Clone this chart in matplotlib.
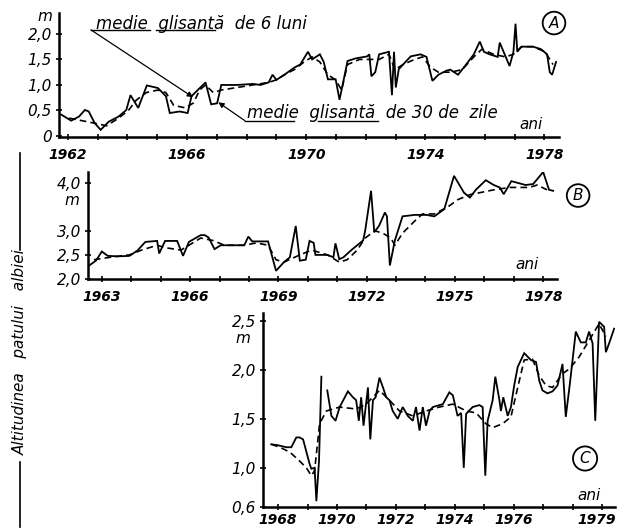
import numpy as np
import matplotlib
matplotlib.use('Agg')
import matplotlib.pyplot as plt
from matplotlib.lines import Line2D
import matplotlib.transforms as mtransforms

plt.rcParams['font.family'] = ['Liberation Sans Narrow', 'DejaVu Sans']
plt.rcParams['font.style'] = 'italic'

# ---------------- Panel A ----------------
a_years_30 = [1961.77, 1962.11, 1962.37, 1962.57, 1962.70, 1962.90, 1963.10, 1963.37, 1963.70, 1963.96,
              1964.10, 1964.36, 1964.65, 1965.02, 1965.29, 1965.42, 1965.75, 1966.02, 1966.15, 1966.62,
              1966.81, 1967.01, 1967.15, 1967.68, 1968.21, 1968.47, 1968.74, 1968.87, 1969.00, 1969.27,
              1969.60, 1969.80, 1970.06, 1970.20, 1970.46, 1970.59, 1970.73, 1970.99, 1971.12, 1971.39,
              1971.66, 1972.05, 1972.12, 1972.19, 1972.32, 1972.45, 1972.78, 1972.88, 1972.95, 1973.01,
              1973.11, 1973.51, 1973.84, 1974.04, 1974.24, 1974.44, 1974.71, 1974.84, 1975.10, 1975.37,
              1975.63, 1975.83, 1975.97, 1976.16, 1976.43, 1976.50, 1976.83, 1976.96, 1977.03, 1977.09,
              1977.23, 1977.62, 1977.89, 1978.09, 1978.18, 1978.26, 1978.39]
a_vals_30 = [0.42, 0.30, 0.38, 0.51, 0.48, 0.25, 0.12, 0.28, 0.38, 0.51,
             0.80, 0.55, 0.99, 0.94, 0.78, 0.45, 0.48, 0.45, 0.78, 1.05,
             0.62, 0.64, 1.00, 1.00, 1.02, 1.00, 1.05, 1.20, 1.10, 1.20,
             1.34, 1.40, 1.65, 1.50, 1.60, 1.45, 1.11, 1.11, 0.71, 1.47,
             1.52, 1.56, 1.60, 1.17, 1.25, 1.60, 1.65, 0.80, 1.65, 0.95,
             1.31, 1.56, 1.60, 1.55, 1.08, 1.20, 1.28, 1.30, 1.20, 1.40,
             1.60, 1.85, 1.65, 1.60, 1.55, 1.83, 1.37, 1.65, 2.20, 1.65,
             1.75, 1.75, 1.70, 1.60, 1.25, 1.20, 1.45]
a_years_6 = [1962.04, 1962.90, 1963.30, 1963.70, 1964.03, 1964.29, 1964.63, 1965.02, 1965.29, 1965.55,
             1965.95, 1966.22, 1966.42, 1966.62, 1966.88, 1967.15, 1967.68, 1968.21, 1968.74, 1969.00,
             1969.27, 1969.60, 1969.93, 1970.20, 1970.46, 1970.73, 1970.99, 1971.19, 1971.39, 1971.79,
             1972.12, 1972.45, 1972.78, 1972.98, 1973.25, 1973.64, 1973.91, 1974.17, 1974.44, 1974.84,
             1975.24, 1975.63, 1975.90, 1976.30, 1976.69, 1976.96, 1977.23, 1977.62, 1978.02, 1978.29]
a_vals_6 = [0.35, 0.25, 0.20, 0.35, 0.50, 0.70, 0.85, 0.90, 0.85, 0.60,
            0.55, 0.65, 0.90, 1.00, 0.85, 0.90, 0.95, 1.00, 1.05, 1.10,
            1.20, 1.30, 1.45, 1.55, 1.45, 1.20, 1.10, 0.90, 1.40, 1.50,
            1.50, 1.50, 1.60, 1.30, 1.40, 1.50, 1.55, 1.35, 1.25, 1.25,
            1.30, 1.55, 1.70, 1.60, 1.55, 1.60, 1.75, 1.75, 1.65, 1.40]
a_xticks = [1962, 1966, 1970, 1974, 1978]
a_yticks = [0, 0.5, 1.0, 1.5, 2.0]
a_ylabels = ['0', '0,5', '1,0', '1,5', '2,0']

# ---------------- Panel B ----------------
b_years_30 = [1962.57, 1962.80, 1963.00, 1963.20, 1963.54, 1963.94, 1964.21, 1964.48, 1964.88, 1964.95,
              1965.15, 1965.56, 1965.76, 1965.96, 1966.36, 1966.50, 1966.63, 1966.83, 1967.04, 1967.84,
              1967.98, 1968.11, 1968.65, 1968.92, 1969.19, 1969.39, 1969.59, 1969.73, 1969.93, 1970.06,
              1970.20, 1970.26, 1970.67, 1970.87, 1970.94, 1971.07, 1971.21, 1971.48, 1971.68, 1971.88,
              1971.95, 1972.15, 1972.26, 1972.42, 1972.62, 1972.69, 1972.79, 1972.96, 1973.22, 1973.63,
              1974.03, 1974.30, 1974.64, 1974.97, 1975.31, 1975.51, 1975.71, 1976.05, 1976.32, 1976.52,
              1976.66, 1976.92, 1977.40, 1977.66, 1978.00, 1978.20, 1978.34]
b_vals_30 = [2.28, 2.38, 2.57, 2.48, 2.47, 2.48, 2.59, 2.77, 2.79, 2.53,
             2.79, 2.79, 2.48, 2.77, 2.91, 2.91, 2.86, 2.62, 2.70, 2.70,
             2.88, 2.78, 2.78, 2.17, 2.35, 2.45, 3.10, 2.38, 2.40, 2.79,
             2.75, 2.50, 2.50, 2.45, 2.74, 2.41, 2.45, 2.60, 2.70, 2.80,
             3.00, 3.83, 2.97, 3.10, 3.38, 3.30, 2.28, 2.80, 3.30, 3.33,
             3.33, 3.30, 3.45, 4.14, 3.79, 3.69, 3.85, 4.05, 3.95, 3.90,
             3.76, 4.03, 3.95, 3.97, 4.22, 3.85, 3.83]
b_years_6 = [1962.73, 1963.27, 1963.94, 1964.35, 1964.88, 1965.15, 1965.69, 1965.96, 1966.36, 1966.77,
             1967.17, 1967.84, 1968.25, 1968.65, 1968.92, 1969.19, 1969.73, 1970.13, 1970.40, 1970.67,
             1971.07, 1971.34, 1971.68, 1971.95, 1972.28, 1972.55, 1972.82, 1972.96, 1973.22, 1973.63,
             1973.90, 1974.30, 1974.77, 1975.11, 1975.51, 1975.92, 1976.32, 1976.86, 1977.53, 1977.80,
             1978.13]
b_vals_6 = [2.40, 2.45, 2.50, 2.60, 2.70, 2.65, 2.60, 2.70, 2.85, 2.80,
            2.70, 2.70, 2.75, 2.70, 2.40, 2.35, 2.50, 2.60, 2.55, 2.50,
            2.35, 2.40, 2.60, 2.85, 3.00, 2.95, 2.85, 2.70, 2.95, 3.20,
            3.35, 3.35, 3.50, 3.65, 3.75, 3.80, 3.85, 3.90, 3.90, 3.95,
            3.85]
b_xticks = [1963, 1966, 1969, 1972, 1975, 1978]
b_yticks = [2.0, 2.5, 3.0, 4.0]
b_ylabels = ['2,0', '2,5', '3,0', '4,0']

# ---------------- Panel C ----------------
c_years_30 = [1967.77, 1968.00, 1968.28, 1968.45, 1968.62, 1968.73, 1968.85, 1969.07, 1969.13, 1969.24,
              1969.30, 1969.39, 1969.47, np.nan, 1969.67, 1969.81, 1969.95, 1970.09, 1970.37, 1970.54,
              1970.65, 1970.74, 1970.82, 1970.90, 1971.05, 1971.13, 1971.22, 1971.31, 1971.44, 1971.56,
              1971.67, 1971.78, 1971.89, 1972.06, 1972.23, 1972.40, 1972.57, 1972.68, 1972.80, 1972.91,
              1973.02, 1973.14, 1973.25, 1973.59, 1973.81, 1973.93, 1974.09, 1974.21, 1974.30, 1974.38,
              1974.60, 1974.83, 1974.94, 1975.03, 1975.11, 1975.28, 1975.37, 1975.51, 1975.56, 1975.64,
              1975.79, 1975.90, 1976.01, 1976.13, 1976.24, 1976.35, 1976.58, 1976.75, 1976.86, 1976.97,
              1977.14, 1977.31, 1977.48, 1977.65, 1977.76, 1977.90, 1978.10, 1978.27, 1978.44, 1978.55,
              1978.67, 1978.76, 1978.89, 1979.06, 1979.12, 1979.23, 1979.40]
c_vals_30 = [1.24, 1.23, 1.21, 1.21, 1.31, 1.31, 1.29, 1.04, 0.99, 1.00,
             0.66, 1.07, 1.93, np.nan, 1.79, 1.53, 1.48, 1.62, 1.78, 1.72,
             1.69, 1.48, 1.72, 1.43, 1.82, 1.29, 1.69, 1.72, 1.92, 1.82,
             1.72, 1.69, 1.58, 1.50, 1.62, 1.53, 1.48, 1.62, 1.38, 1.62,
             1.43, 1.58, 1.62, 1.65, 1.77, 1.74, 1.53, 1.56, 1.00, 1.55,
             1.62, 1.64, 1.62, 0.92, 1.48, 1.69, 1.93, 1.69, 1.58, 1.72,
             1.53, 1.62, 1.84, 2.03, 2.10, 2.17, 2.10, 2.08, 1.89, 1.79,
             1.76, 1.78, 1.84, 2.06, 1.52, 1.86, 2.39, 2.28, 2.28, 2.39,
             2.27, 1.48, 2.49, 2.44, 2.18, 2.27, 2.42]
c_years_6 = [1967.77, 1968.06, 1968.40, 1968.73, 1968.96, 1969.13, 1969.24, 1969.41, 1969.64, 1970.09,
             1970.65, 1970.99, 1971.44, 1971.78, 1972.12, 1972.57, 1973.02, 1973.47, 1973.93, 1974.38,
             1974.72, 1975.05, 1975.28, 1975.62, 1975.90, 1976.13, 1976.35, 1976.63, 1976.86, 1977.09,
             1977.31, 1977.65, 1977.88, 1978.21, 1978.55, 1978.89, 1979.12]
c_vals_6 = [1.24, 1.21, 1.16, 1.07, 1.00, 0.92, 0.97, 1.45, 1.58, 1.62,
            1.60, 1.65, 1.79, 1.69, 1.58, 1.53, 1.58, 1.62, 1.65, 1.58,
            1.56, 1.45, 1.41, 1.45, 1.52, 1.82, 2.10, 2.11, 1.94, 1.84,
            1.82, 1.96, 2.01, 2.13, 2.30, 2.47, 2.34]
c_xticks = [1968, 1970, 1972, 1974, 1976, 1979]
c_yticks = [0.6, 1.0, 1.5, 2.0, 2.5]
c_ylabels = ['0,6', '1,0', '1,5', '2,0', '2,5']

W, H = 619, 530
fig = plt.figure(figsize=(W / 100, H / 100), dpi=100)
fig.patch.set_facecolor('white')


def px_axes(l, t, r, b):
    return fig.add_axes([l / W, 1 - b / H, (r - l) / W, (b - t) / H])


FS = 10
SOLID = dict(color='black', lw=1.3, solid_joinstyle='miter')
DASH = dict(color='black', lw=1.2, dashes=(4, 2.5))


def style(ax, xlim, ylim, xticks, yticks, ylabels, xpad=6):
    ax.set_xlim(*xlim)
    ax.set_ylim(*ylim)
    for s in ['top', 'right']:
        ax.spines[s].set_visible(False)
    for s in ['left', 'bottom']:
        ax.spines[s].set_linewidth(1.8)
    ax.set_xticks(xticks)
    ax.set_xticklabels([str(x) for x in xticks], fontsize=FS, fontweight='bold')
    ax.set_xticks(np.arange(np.ceil(xlim[0]), xlim[1], 1.0), minor=True)
    ax.set_yticks(yticks)
    ax.set_yticklabels(ylabels, fontsize=FS + 1)
    ax.tick_params(axis='both', which='both', direction='inout', length=4, width=1.2, pad=3)
    ax.tick_params(axis='x', pad=xpad)
    ax.patch.set_alpha(0)


# Panel A
axA = px_axes(59, 13, 559, 137)
axA.plot(a_years_30, a_vals_30, **SOLID)
axA.plot(a_years_6, a_vals_6, **DASH)
style(axA, (1961.7, 1978.49), (-0.02, 2.41), a_xticks, a_yticks, a_ylabels)
axA.text(-0.028, 0.968, 'm', transform=axA.transAxes, fontsize=FS + 1, ha='center', va='center')
axA.text(0.968, 0.04, 'ani', transform=axA.transAxes, fontsize=FS + 1, ha='right', va='bottom')
axA.text(0.99, 0.919, 'A', transform=axA.transAxes, fontsize=FS + 1, ha='center', va='center',
         bbox=dict(boxstyle='circle,pad=0.25', fc='white', ec='black', lw=1.3))
# annotations
axA.text(1962.95, 2.20, 'medie  glisantă  de 6 luni', fontsize=FS + 2, ha='left', va='center')
axA.plot([1962.77, 1964.76], [2.08, 2.08], color='black', lw=1.0, clip_on=False)
axA.plot([1964.96, 1966.95], [2.08, 2.08], color='black', lw=1.0, clip_on=False)
axA.annotate('', xy=(1966.2, 0.76), xytext=(1962.77, 2.08),
             arrowprops=dict(arrowstyle='-|>', color='black', lw=0.9, mutation_scale=8, shrinkA=0, shrinkB=0))
axA.text(1968.0, 0.46, 'medie  glisantă  de 30 de  zile', fontsize=FS + 2, ha='left', va='center')
axA.plot([1967.94, 1969.6], [0.30, 0.30], color='black', lw=1.0, clip_on=False)
axA.plot([1970.4, 1972.4], [0.30, 0.30], color='black', lw=1.0, clip_on=False)
axA.annotate('', xy=(1967.05, 0.66), xytext=(1967.94, 0.30),
             arrowprops=dict(arrowstyle='-|>', color='black', lw=0.9, mutation_scale=8, shrinkA=0, shrinkB=0))

# Panel B
axB = px_axes(88, 172, 557, 279)
axB.plot(b_years_30, b_vals_30, **SOLID)
axB.plot(b_years_6, b_vals_6, **DASH)
style(axB, (1962.53, 1978.47), (2.0, 4.22), b_xticks, b_yticks, b_ylabels)
axB.text(-0.034, 0.738, 'm', transform=axB.transAxes, fontsize=FS + 1, ha='center', va='center')
axB.text(0.96, 0.07, 'ani', transform=axB.transAxes, fontsize=FS + 1, ha='right', va='bottom')
axB.text(1.045, 0.78, 'B', transform=axB.transAxes, fontsize=FS + 1, ha='center', va='center',
         bbox=dict(boxstyle='circle,pad=0.25', fc='white', ec='black', lw=1.3))

# Panel C
axC = px_axes(263, 313, 615, 507)
axC.plot(c_years_30, c_vals_30, **SOLID)
axC.plot(c_years_6, c_vals_6, **DASH)
style(axC, (1967.49, 1979.43), (0.6, 2.58), c_xticks, c_yticks, c_ylabels, xpad=2)
last = axC.get_xticklabels()[-1]
last.set_horizontalalignment('right')
last.set_transform(last.get_transform() + mtransforms.ScaledTranslation(14 / 100, 0, fig.dpi_scale_trans))
axC.text(-0.057, 0.866, 'm', transform=axC.transAxes, fontsize=FS + 1, ha='center', va='center')
axC.text(0.96, 0.02, 'ani', transform=axC.transAxes, fontsize=FS + 1, ha='right', va='bottom')
axC.text(0.915, 0.25, 'C', transform=axC.transAxes, fontsize=FS + 1, ha='center', va='center',
         bbox=dict(boxstyle='circle,pad=0.3', fc='white', ec='black', lw=1.3))

# Left vertical label
fig.text(20 / W, 1 - 352 / H, 'Altitudinea   patului   albiei', rotation=90, fontsize=FS + 1,
         ha='center', va='center')
fig.add_artist(Line2D([20 / W, 20 / W], [1 - 153 / H, 1 - 250 / H], color='black', lw=1.2))
fig.add_artist(Line2D([20 / W, 20 / W], [1 - 462 / H, 1 - 527 / H], color='black', lw=1.2))

fig.savefig('out.png', dpi=100, facecolor='white')
